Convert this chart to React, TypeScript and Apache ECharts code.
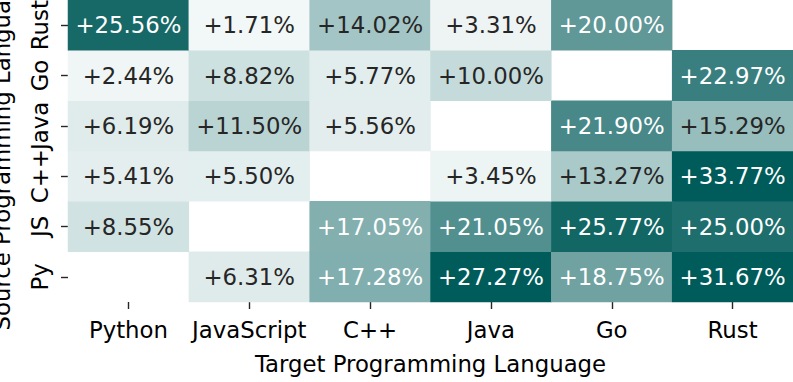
import React, { useEffect, useRef } from "react";
import * as echarts from "echarts";

const targets = ["Python", "JavaScript", "C++", "Java", "Go", "Rust"];
const sources = ["Py", "JS", "C++", "Java", "Go", "Rust"]; // bottom to top

// rows by source (same order as sources), columns by target
const rowPy = [null, 6.31, 17.28, 27.27, 18.75, 31.67];
const rowJS = [8.55, null, 17.05, 21.05, 25.77, 25.0];
const rowCpp = [5.41, 5.5, null, 3.45, 13.27, 33.77];
const rowJava = [6.19, 11.5, 5.56, null, 21.9, 15.29];
const rowGo = [2.44, 8.82, 5.77, 10.0, null, 22.97];
const rowRust = [25.56, 1.71, 14.02, 3.31, 20.0, null];

const rows: (number | null)[][] = [rowPy, rowJS, rowCpp, rowJava, rowGo, rowRust];

const colorStops = [
  "#f7fafa",
  "#eff5f5",
  "#e1ecec",
  "#cde0e0",
  "#b6d1d1",
  "#9abfbf",
  "#79a8a8",
  "#538f8f",
  "#2d7776",
  "#005c5a",
];

const FONT = "DejaVu Sans";

export default function App() {
  const ref = useRef<HTMLDivElement>(null);
  useEffect(() => {
    document.body.style.margin = "0";
    if (!ref.current) return;
    const chart = echarts.init(ref.current, undefined, { renderer: "svg" });
    const data: any[] = [];
    rows.forEach((row, yi) => {
      row.forEach((v, xi) => {
        if (v === null) return;
        data.push({
          value: [xi, yi, v],
          label: { color: v > 16 ? "#ffffff" : "#262626" },
        });
      });
    });
    chart.setOption({
      animation: false,
      grid: {
        left: 68,
        right: 0,
        top: 0,
        bottom: 80,
        containLabel: false,
        outerBoundsMode: "none",
      },
      xAxis: {
        type: "category",
        data: targets,
        name: "Target Programming Language",
        nameLocation: "middle",
        nameGap: 50,
        nameTextStyle: { fontFamily: FONT, fontSize: 22.8, color: "#000" },
        axisLine: { show: false },
        axisTick: {
          show: true,
          alignWithLabel: true,
          length: 7,
          lineStyle: { color: "#262626", width: 1.4 },
        },
        axisLabel: {
          fontFamily: FONT,
          fontSize: 22.8,
          color: "#000",
          margin: 16,
          interval: 0,
          hideOverlap: false,
        },
        splitArea: { show: false },
      },
      yAxis: {
        type: "category",
        data: sources,
        name: "Source Programming Language",
        nameLocation: "middle",
        nameGap: 55,
        nameRotate: 90,
        nameTextStyle: { fontFamily: FONT, fontSize: 22.8, color: "#000" },
        axisLine: { show: false },
        axisTick: {
          show: true,
          alignWithLabel: true,
          length: 7,
          lineStyle: { color: "#262626", width: 1.4 },
        },
        axisLabel: {
          fontFamily: FONT,
          fontSize: 22.8,
          color: "#000",
          rotate: 90,
          margin: 17,
          interval: 0,
          hideOverlap: false,
          verticalAlign: "bottom",
          align: "center",
        },
        splitArea: { show: false },
      },
      visualMap: {
        show: false,
        min: 0,
        max: 27,
        dimension: 2,
        inRange: { color: colorStops },
      },
      series: [
        {
          type: "heatmap",
          data,
          label: {
            show: true,
            fontFamily: FONT,
            fontSize: 22.8,
            formatter: (p: any) => "+" + p.value[2].toFixed(2) + "%",
          },
          itemStyle: { borderWidth: 0 },
          emphasis: { disabled: true },
        },
      ],
    });
    return () => chart.dispose();
  }, []);
  return <div ref={ref} style={{ width: 793, height: 382 }} />;
}
